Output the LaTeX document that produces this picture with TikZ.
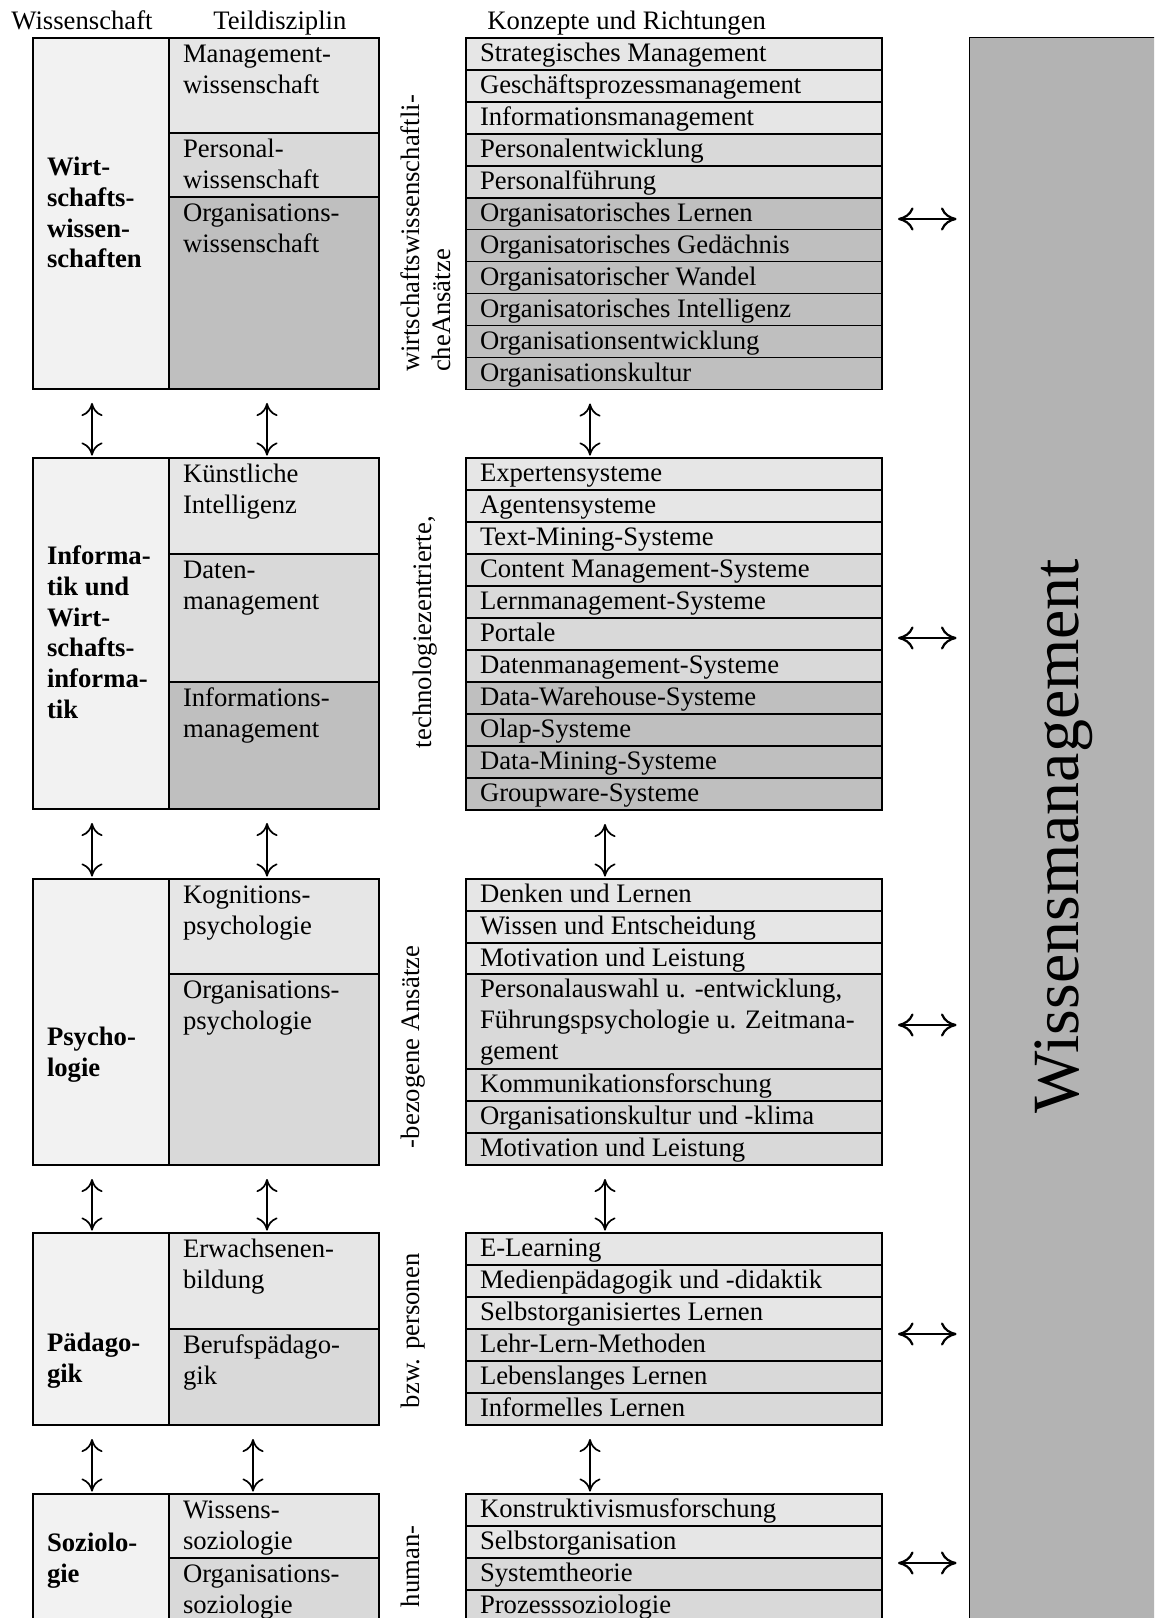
\documentclass[tikz,border=0pt]{standalone}
\usepackage{fontspec}
\setmainfont{Liberation Serif}
\usetikzlibrary{fit,arrows.meta}

\definecolor{cellA}{HTML}{E6E6E6}
\definecolor{cellB}{HTML}{D9D9D9}
\definecolor{cellC}{HTML}{BFBFBF}
\definecolor{sciCol}{HTML}{F2F2F2}
\definecolor{wmGray}{HTML}{B3B3B3}

\tikzset{
  cell/.style={draw=black, line width=0.7pt, inner sep=0pt, outer sep=0pt},
  frame/.style={draw=black, line width=0.7pt, inner sep=0pt, outer sep=0pt},
  txt/.style={anchor=north west, inner sep=0pt, outer sep=0pt, align=left,
    font=\fontsize{12}{13.8}\selectfont},
  scitxt/.style={txt, font=\fontsize{12}{13.8}\selectfont\bfseries},
  vlabel/.style={txt, rotate=90},
  head/.style={anchor=base west, inner sep=0pt, font=\fontsize{12}{13.8}\selectfont},
  varrow/.style={line width=0.75pt,
    >={Computer Modern Rightarrow[length=5.9pt,width=9.5pt]}, <->,
    shorten <=6.3pt, shorten >=1.1pt},
  harrow/.style={line width=1pt,
    >={Computer Modern Rightarrow[length=7pt,width=10.4pt]}, <->,
    shorten <=7.2pt, shorten >=5.4pt},
}

% one row of the concept lists: name, top, bottom, fill, text
\newcommand\conceptrow[5]{%
  \node[cell, fill=#4, fit={(466,#2) (882,#3)}] (#1) {};
  \node[txt] (#1t) at (480,#2+2.5) {\strut #5};}
% one sub-discipline cell: name, top, bottom, fill, text
\newcommand\subcell[5]{%
  \node[cell, fill=#4, fit={(169,#2) (379,#3)}] (#1) {};
  \node[txt] (#1t) at (183,#2+3.5) {\strut #5};}
% one science cell: name, top, bottom, text top, text
\newcommand\scicell[5]{%
  \node[cell, fill=sciCol, fit={(33,#2) (169,#3)}] (#1) {};
  \node[scitxt] (#1t) at (47,#4) {\strut #5};}

\begin{document}
\begin{tikzpicture}[x=0.45pt, y=-0.45pt]
\useasboundingbox (0,0) rectangle (1154,1618);
\clip (0,0) rectangle (1154,1618);

% column headings
\node[head] (hw) at (11,30) {Wissenschaft};
\node[head] (ht) at (213,30) {Teildisziplin};
\node[head] (hk) at (487,30) {Konzepte und Richtungen};

% knowledge management column
\node[draw=black, line width=0.45pt, fill=wmGray, inner sep=0pt,
  fit={(969,38) (1220,1700)}] (wm) {};
\node[rotate=90, anchor=base, inner sep=0pt,
  font=\fontsize{29.7}{34}\selectfont] (wmt) at (1078,836) {Wissensmanagement};

% ---------- Wirtschaftswissenschaften ----------
\scicell{s1}{38}{389}{154.5}{Wirt-\\schafts-\\wissen-\\schaften}
\subcell{t1a}{38}{133}{cellA}{Management-\\wissenschaft}
\subcell{t1b}{133}{197}{cellB}{Personal-\\wissenschaft}
\subcell{t1c}{197}{389}{cellC}{Organisations-\\wissenschaft}
\node[vlabel] (l1) at (398.5,372) {\strut wirtschaftswissenschaftli-\\cheAnsätze};
\foreach \tx/\fl [count=\i from 0] in {
  Strategisches Management/cellA, Geschäftsprozessmanagement/cellA,
  Informationsmanagement/cellA, Personalentwicklung/cellB,
  Personalführung/cellB, Organisatorisches Lernen/cellC,
  Organisatorisches Gedächnis/cellC, Organisatorischer Wandel/cellC,
  Organisatorisches Intelligenz/cellC, Organisationsentwicklung/cellC,
  Organisationskultur/cellC}{
  \pgfmathsetmacro\yt{38+31.95*\i}
  \pgfmathsetmacro\yb{38+31.95*(\i+1)}
  \conceptrow{ma\i}{\yt}{\yb}{\fl}{\tx}
}
\node[frame, fit={(466,38) (882,389.5)}] (m1) {};

% ---------- Informatik ----------
\scicell{s2}{458}{809}{543.5}{Informa-\\tik und\\Wirt-\\schafts-\\informa-\\tik}
\subcell{t2a}{458}{554}{cellA}{Künstliche\\Intelligenz}
\subcell{t2b}{554}{682}{cellB}{Daten-\\management}
\subcell{t2c}{682}{809}{cellC}{Informations-\\management}
\node[vlabel] (l2) at (410.5,748) {\strut technologiezentrierte,};
\foreach \tx/\fl [count=\i from 0] in {
  Expertensysteme/cellA, Agentensysteme/cellA, Text-Mining-Systeme/cellA,
  Content Management-Systeme/cellB, Lernmanagement-Systeme/cellB,
  Portale/cellB, Datenmanagement-Systeme/cellB,
  Data-Warehouse-Systeme/cellC, Olap-Systeme/cellC,
  Data-Mining-Systeme/cellC, Groupware-Systeme/cellC}{
  \pgfmathsetmacro\yt{458+32*\i}
  \pgfmathsetmacro\yb{458+32*(\i+1)}
  \conceptrow{mb\i}{\yt}{\yb}{\fl}{\tx}
}
\node[frame, fit={(466,458) (882,810)}] (m2) {};

% ---------- Psychologie ----------
\scicell{s3}{879}{1165}{1024.5}{Psycho-\\logie}
\subcell{t3a}{879}{974}{cellA}{Kognitions-\\psychologie}
\subcell{t3b}{974}{1165}{cellB}{Organisations-\\psychologie}
\node[vlabel] (l3) at (398.5,1148) {\strut -bezogene Ansätze};
\conceptrow{mc0}{879}{911}{cellA}{Denken und Lernen}
\conceptrow{mc1}{911}{943}{cellA}{Wissen und Entscheidung}
\conceptrow{mc2}{943}{974}{cellA}{Motivation und Leistung}
\conceptrow{mc3}{974}{1069}{cellB}{Personalauswahl u. -entwicklung,\\Führungspsychologie u. Zeitmana-\\gement}
\conceptrow{mc4}{1069}{1101}{cellB}{Kommunikationsforschung}
\conceptrow{mc5}{1101}{1133}{cellB}{Organisationskultur und -klima}
\conceptrow{mc6}{1133}{1165}{cellB}{Motivation und Leistung}
\node[frame, fit={(466,879) (882,1165)}] (m3) {};

% ---------- Pädagogik ----------
\scicell{s4}{1233}{1425}{1330.5}{Pädago-\\gik}
\subcell{t4a}{1233}{1329}{cellA}{Erwachsenen-\\bildung}
\subcell{t4b}{1329}{1425}{cellB}{Berufspädago-\\gik}
\node[vlabel] (l4) at (398.5,1408) {\strut bzw. personen};
\foreach \tx/\fl [count=\i from 0] in {
  E-Learning/cellA, Medienpädagogik und -didaktik/cellA,
  Selbstorganisiertes Lernen/cellA, Lehr-Lern-Methoden/cellB,
  Lebenslanges Lernen/cellB, Informelles Lernen/cellB}{
  \pgfmathsetmacro\yt{1233+32*\i}
  \pgfmathsetmacro\yb{1233+32*(\i+1)}
  \conceptrow{md\i}{\yt}{\yb}{\fl}{\tx}
}
\node[frame, fit={(466,1233) (882,1425)}] (m4) {};

% ---------- Soziologie ----------
\scicell{s5}{1494}{1680}{1530.5}{Soziolo-\\gie}
\subcell{t5a}{1494}{1558}{cellA}{Wissens-\\soziologie}
\subcell{t5b}{1558}{1680}{cellB}{Organisations-\\soziologie}
\node[vlabel] (l5) at (398.5,1607) {\strut human-};
\foreach \tx/\fl [count=\i from 0] in {
  Konstruktivismusforschung/cellA, Selbstorganisation/cellA,
  Systemtheorie/cellB, Prozesssoziologie/cellB}{
  \pgfmathsetmacro\yt{1494+32*\i}
  \pgfmathsetmacro\yb{1494+32*(\i+1)}
  \conceptrow{me\i}{\yt}{\yb}{\fl}{\tx}
}
\node[frame, fit={(466,1494) (882,1622)}] (m5) {};

% arrow columns
\coordinate (xs) at (92,0);
\coordinate (xt) at (267,0);
\coordinate (xtl) at (253,0);
\coordinate (xm) at (590,0);
\coordinate (xmr) at (605,0);

% links between the disciplines
\draw[varrow] (s1.south -| xs) -- (s2.north -| xs);
\draw[varrow] (s2.south -| xs) -- (s3.north -| xs);
\draw[varrow] (s3.south -| xs) -- (s4.north -| xs);
\draw[varrow] (s4.south -| xs) -- (s5.north -| xs);
\draw[varrow] (t1c.south -| xt) -- (t2a.north -| xt);
\draw[varrow] (t2c.south -| xt) -- (t3a.north -| xt);
\draw[varrow] (t3b.south -| xt) -- (t4a.north -| xt);
\draw[varrow] (t4b.south -| xtl) -- (t5a.north -| xtl);
\draw[varrow] (m1.south -| xm) -- (m2.north -| xm);
\draw[varrow] (m2.south -| xmr) -- (m3.north -| xmr);
\draw[varrow] (m3.south -| xmr) -- (m4.north -| xmr);
\draw[varrow] (m4.south -| xm) -- (m5.north -| xm);

% links to knowledge management
\coordinate (y1) at (0,219);
\coordinate (y2) at (0,638);
\coordinate (y3) at (0,1025);
\coordinate (y4) at (0,1334);
\coordinate (y5) at (0,1563);
\foreach \k in {1,...,5}{
  \draw[harrow] (m\k.east |- y\k) -- (wm.west |- y\k);
}
\end{tikzpicture}
\end{document}
